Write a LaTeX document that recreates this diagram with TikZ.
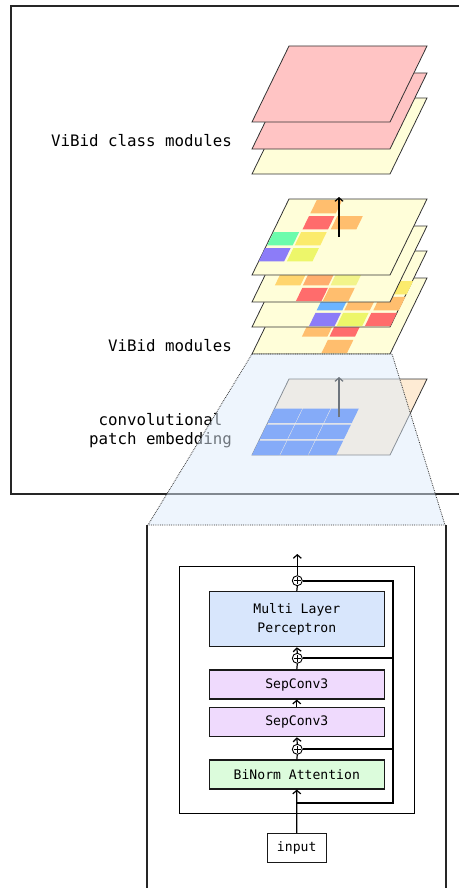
\documentclass[tikz,border=0pt]{standalone}
\usepackage{fontspec}
\setmonofont{DejaVu Sans Mono}
\usetikzlibrary{arrows.meta}
\definecolor{platepink}{HTML}{FFC4C4}
\definecolor{plateyel}{HTML}{FFFED9}
\definecolor{platetan}{HTML}{FEEBD4}
\definecolor{cpurple}{HTML}{8C7CF8}
\definecolor{cygreen}{HTML}{EDF66A}
\definecolor{cgreen}{HTML}{6CFCAC}
\definecolor{cyellow}{HTML}{FBEB6C}
\definecolor{cred}{HTML}{FF6C6C}
\definecolor{corange}{HTML}{FFBE6E}
\definecolor{cyorange}{HTML}{FFD56E}
\definecolor{corange2}{HTML}{FFAE6E}
\definecolor{clygreen}{HTML}{F2F48A}
\definecolor{cblue}{HTML}{6CB4FF}
\definecolor{eblue}{HTML}{2D6BF5}
\definecolor{overlay}{HTML}{DDEBFB}
\definecolor{mlpcol}{HTML}{D8E6FC}
\definecolor{sepcol}{HTML}{EFDAFD}
\definecolor{attcol}{HTML}{DCFCDC}
\newcommand\myplate[2]{\draw[plateline, fill=#2] (252,#1) -- (390,#1) -- (427,#1-76) -- (289,#1-76) -- cycle;}
\def\cw{0.185}\def\chh{0.175}
\newcommand\mycell[4]{\fill[#4] ({252+138*#2+37*#3},{#1-76*#3}) -- ++({138*\cw},0) -- ++({37*\chh},{-76*\chh}) -- ++({-138*\cw},0) -- cycle;}
\tikzset{
  plateline/.style={draw=black!80, line width=0.8pt},
  lbl/.style={font=\fontsize{15.8}{19.3}\selectfont\ttfamily, inner sep=0pt, align=center},
  blk/.style={draw=black!90, line width=1.1pt, minimum width=175pt, inner sep=0pt, align=center, font=\fontsize{13.1}{18.3}\selectfont\ttfamily},
  plus/.style={circle, draw, line width=0.9pt, minimum size=10pt, inner sep=0pt, fill=white,
    path picture={\draw[line width=0.8pt] (path picture bounding box.center) +(-3.6,0) -- +(3.6,0) (path picture bounding box.center) +(0,-3.6) -- +(0,3.6);}},
  arr/.style={line width=1.2pt, -{Straight Barb[length=3.5pt,width=8pt]}},
  ln/.style={line width=1.2pt},
  skip/.style={line width=2.2pt},
}
\begin{document}
\begin{tikzpicture}[x=1pt,y=-1pt]
\useasboundingbox (0,0) rectangle (459,888);
% top box
\draw[line width=1.3pt, draw=black!85] (459,6) -- (11,6) -- (11,494) -- (459,494);
% labels
\node[lbl, anchor=east] (lclass) at (232,141) {ViBid class modules};
\node[lbl, anchor=east] (lmod) at (232,346) {ViBid modules};
\node[lbl] (lemb) at (160.5,430.4) {convolutional\\patch embedding};
% class module stack
\myplate{174}{plateyel}
\myplate{149}{platepink}
\myplate{122}{platepink}
% ViBid module stack
\myplate{354}{plateyel}
\mycell{354}{0.3}{0.23}{corange}
\mycell{354}{0.5}{0.23}{cred}
\mycell{354}{0.5}{0.01}{corange}
\myplate{327}{plateyel}
\mycell{327}{0.41}{0.22}{cblue}
\mycell{327}{0.61}{0.22}{corange}
\mycell{327}{0.82}{0.22}{corange}
\mycell{327}{0.41}{0.01}{cpurple}
\mycell{327}{0.61}{0.01}{cygreen}
\mycell{327}{0.815}{0.01}{cred}
\mycell{327}{0.82}{0.43}{cyellow}
\myplate{302}{plateyel}
\mycell{302}{0.107}{0.22}{cyorange}
\mycell{302}{0.31}{0.22}{corange2}
\mycell{302}{0.51}{0.22}{clygreen}
\mycell{302}{0.315}{0.01}{cred}
\mycell{302}{0.51}{0.01}{corange}
\myplate{275}{plateyel}
\mycell{275}{0.0}{0.18}{cpurple}
\mycell{275}{0.205}{0.18}{cygreen}
\mycell{275}{0.005}{0.39}{cgreen}
\mycell{275}{0.205}{0.39}{cyellow}
\mycell{275}{0.205}{0.6}{cred}
\mycell{275}{0.41}{0.6}{corange}
\mycell{275}{0.205}{0.81}{corange}
\coordinate (ma) at (339,237);
\coordinate (mb) at (339,197);
\draw[arr] (ma) -- (mb);
% embedding plate
\myplate{455}{platetan}
\def\cw{0.2}\def\chh{0.19}
\foreach \u in {0,0.205,0.41}{\foreach \v in {0,0.21,0.42}{\mycell{455}{\u}{\v}{eblue}}}
\coordinate (ea) at (339,417);
\coordinate (eb) at (339,377);
\draw[arr] (ea) -- (eb);
% zoom trapezoid
\draw[densely dotted, draw=black!80, line width=0.8pt, fill=overlay, fill opacity=0.5] (252,354) -- (392,354) -- (445,525) -- (148,525) -- cycle;
% bottom frame
\draw[line width=1.3pt, draw=black!85] (147,525) -- (147,888) (446,525) -- (446,888);
% block
\draw[line width=1.1pt] (179.3,566.7) rectangle (414.3,813.3);
\node[blk, minimum height=55pt, fill=mlpcol] (mlp) at (296.8,619.2) {Multi Layer\\Perceptron};
\node[blk, minimum height=29pt, fill=sepcol] (sepa) at (296.8,684.5) {SepConv3};
\node[blk, minimum height=29pt, fill=sepcol] (sepb) at (296.8,722.2) {SepConv3};
\node[blk, minimum height=29pt, fill=attcol] (att) at (296.8,774.5) {BiNorm Attention};
\node[plus] (c1) at (297.3,580.7) {};
\node[plus] (c2) at (297.3,658.3) {};
\node[plus] (c3) at (297.3,749.3) {};
\node[blk, minimum width=58.7pt, minimum height=29pt, line width=1pt] (inp) at (296.7,847.8) {input};
\coordinate (out) at (297.3,554);
\coordinate (br0) at (297.3,803);
\coordinate (rb) at (392.7,803);
\coordinate (rt) at (392.7,580.7);
\draw[arr] (inp.north) -- (att.south);
\draw[ln] (att.north) -- (c3.south);
\draw[arr] (c3.north) -- (sepb.south);
\draw[arr] (sepb.north) -- (sepa.south);
\draw[ln] (sepa.north) -- (c2.south);
\draw[arr] (c2.north) -- (mlp.south);
\draw[ln] (mlp.north) -- (c1.south);
\draw[arr] (c1.north) -- (out);
\draw[skip] (br0) -- (rb) -- (rt) -- (c1.east);
\draw[skip] (c2.east) -- (c2.east -| rb);
\draw[skip] (c3.east) -- (c3.east -| rb);
\end{tikzpicture}
\end{document}
